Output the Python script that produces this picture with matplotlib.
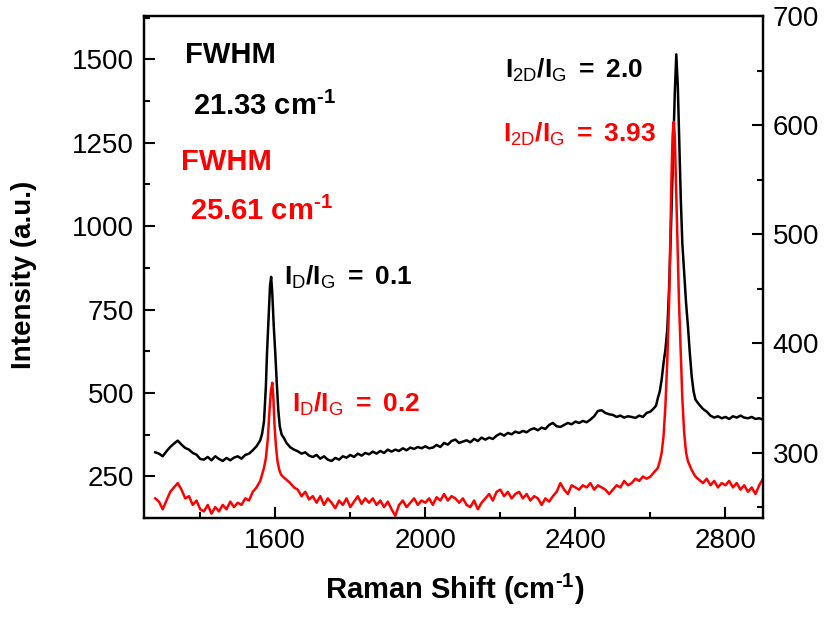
import numpy as np
import matplotlib
matplotlib.use('Agg')
import matplotlib.pyplot as plt
from matplotlib.ticker import MultipleLocator

plt.rcParams['font.family'] = ['Liberation Sans', 'DejaVu Sans']
plt.rcParams['mathtext.fontset'] = 'custom'
plt.rcParams['mathtext.rm'] = 'Liberation Sans'
plt.rcParams['mathtext.bf'] = 'Liberation Sans:bold'
plt.rcParams['mathtext.it'] = 'Liberation Sans:italic'

# black spectrum (left axis)
shift_black = [1280, 1290, 1300, 1310, 1320, 1330, 1340, 1350, 1360, 1370,
               1380, 1390, 1400, 1410, 1420, 1430, 1440, 1450, 1460, 1470,
               1480, 1490, 1500, 1510, 1520, 1530, 1540, 1550, 1560, 1565,
               1570, 1575, 1578, 1582, 1586, 1589, 1592, 1596, 1600, 1604,
               1608, 1612, 1617, 1623, 1630, 1640, 1650, 1660, 1670, 1680,
               1690, 1700, 1710, 1720, 1730, 1740, 1750, 1760, 1770, 1780,
               1790, 1800, 1810, 1820, 1830, 1840, 1850, 1860, 1870, 1880,
               1890, 1900, 1910, 1920, 1930, 1940, 1950, 1960, 1970, 1980,
               1990, 2000, 2010, 2020, 2030, 2040, 2050, 2060, 2070, 2080,
               2090, 2100, 2110, 2120, 2130, 2140, 2150, 2160, 2170, 2180,
               2190, 2200, 2210, 2220, 2230, 2240, 2250, 2260, 2270, 2280,
               2290, 2300, 2310, 2320, 2330, 2340, 2350, 2360, 2370, 2380,
               2390, 2400, 2410, 2420, 2430, 2440, 2450, 2460, 2470, 2480,
               2490, 2500, 2510, 2520, 2530, 2540, 2550, 2560, 2570, 2580,
               2590, 2600, 2610, 2615, 2620, 2625, 2630, 2635, 2640, 2645,
               2650, 2655, 2660, 2665, 2669, 2673, 2677, 2681, 2685, 2690,
               2695, 2700, 2705, 2710, 2715, 2720, 2730, 2740, 2750, 2760,
               2770, 2780, 2790, 2800, 2810, 2820, 2830, 2840, 2850, 2860,
               2870, 2880, 2890, 2900]
int_black = [322, 318, 310, 325, 338, 348, 357, 345, 335, 330,
             320, 315, 302, 300, 308, 298, 310, 302, 296, 305,
             298, 306, 310, 303, 314, 318, 328, 340, 358, 378,
             415, 520, 620, 720, 820, 848, 800, 700, 620, 530,
             450, 400, 375, 365, 350, 337, 330, 325, 318, 322,
             312, 308, 314, 303, 310, 300, 296, 305, 300, 310,
             306, 314, 308, 318, 312, 320, 316, 324, 318, 326,
             320, 330, 324, 330, 326, 334, 328, 336, 332, 338,
             334, 340, 334, 336, 344, 338, 350, 345, 356, 360,
             350, 354, 358, 352, 362, 356, 366, 360, 366, 362,
             372, 378, 372, 380, 376, 384, 380, 386, 382, 390,
             394, 388, 396, 392, 404, 410, 400, 398, 404, 410,
             406, 414, 410, 416, 412, 420, 430, 446, 448, 440,
             436, 434, 428, 432, 426, 430, 428, 425, 432, 428,
             440, 444, 455, 462, 485, 505, 540, 590, 630, 690,
             820, 1000, 1200, 1400, 1515, 1420, 1250, 1080, 950, 860,
             770, 700, 620, 550, 505, 480, 465, 452, 444, 432,
             426, 430, 424, 428, 422, 430, 426, 432, 426, 424,
             428, 422, 424, 420]

# red spectrum (right axis)
shift_red = [1280, 1290, 1300, 1310, 1320, 1330, 1340, 1350, 1360, 1370,
             1380, 1390, 1400, 1410, 1420, 1430, 1440, 1450, 1460, 1470,
             1480, 1490, 1500, 1510, 1520, 1530, 1540, 1550, 1560, 1565,
             1570, 1575, 1580, 1584, 1588, 1592, 1595, 1598, 1602, 1606,
             1610, 1615, 1620, 1630, 1640, 1650, 1660, 1670, 1680, 1690,
             1700, 1710, 1720, 1730, 1740, 1750, 1760, 1770, 1780, 1790,
             1800, 1810, 1820, 1830, 1840, 1850, 1860, 1870, 1880, 1890,
             1900, 1910, 1920, 1930, 1940, 1950, 1960, 1970, 1980, 1990,
             2000, 2010, 2020, 2030, 2040, 2050, 2060, 2070, 2080, 2090,
             2100, 2110, 2120, 2130, 2140, 2150, 2160, 2170, 2180, 2190,
             2200, 2210, 2220, 2230, 2240, 2250, 2260, 2270, 2280, 2290,
             2300, 2310, 2320, 2330, 2340, 2350, 2360, 2370, 2380, 2390,
             2400, 2410, 2420, 2430, 2440, 2450, 2460, 2470, 2480, 2490,
             2500, 2510, 2520, 2530, 2540, 2550, 2560, 2570, 2580, 2590,
             2600, 2610, 2620, 2625, 2630, 2635, 2640, 2645, 2650, 2653,
             2656, 2659, 2662, 2665, 2668, 2672, 2676, 2680, 2685, 2690,
             2695, 2700, 2705, 2710, 2715, 2720, 2730, 2740, 2750, 2760,
             2770, 2780, 2790, 2800, 2810, 2820, 2830, 2840, 2850, 2860,
             2870, 2880, 2890, 2900]
int_red = [258, 255, 248, 256, 264, 268, 272, 266, 258, 260,
           252, 256, 248, 246, 252, 244, 250, 246, 252, 248,
           255, 250, 254, 252, 258, 256, 264, 268, 274, 280,
           286, 295, 312, 335, 355, 364, 350, 325, 305, 292,
           285, 280, 278, 275, 272, 268, 266, 260, 264, 257,
           260, 254, 260, 252, 258, 254, 249, 256, 252, 258,
           250, 255, 260, 253, 258, 254, 258, 252, 256, 250,
           255, 248, 242, 252, 256, 250, 254, 258, 252, 256,
           254, 258, 252, 259, 256, 262, 256, 260, 258, 254,
           258, 252, 250, 256, 248, 254, 258, 262, 256, 264,
           266, 260, 264, 258, 262, 264, 258, 262, 256, 260,
           258, 252, 258, 255, 260, 264, 272, 266, 262, 270,
           268, 266, 270, 268, 272, 266, 270, 268, 266, 262,
           266, 270, 268, 274, 270, 272, 276, 274, 278, 276,
           278, 282, 286, 292, 300, 315, 343, 385, 440, 495,
           550, 590, 603, 590, 550, 500, 440, 400, 350, 318,
           300, 292, 288, 284, 281, 278, 275, 272, 276, 270,
           274, 268, 272, 270, 274, 268, 272, 266, 270, 264,
           268, 262, 270, 276]

fig = plt.figure(figsize=(8.25, 6.18), dpi=100)
ax = fig.add_axes([0.1745, 0.1618, 0.7503, 0.8123])
ax2 = ax.twinx()

ax.plot(shift_black, int_black, color='black', lw=1.8)
ax2.plot(shift_red, int_red, color='red', lw=1.8)

ax.set_xlim(1250, 2900)
ax.set_ylim(125, 1630)
ax2.set_ylim(240, 700)

ax.xaxis.set_major_locator(MultipleLocator(400))
ax.xaxis.set_minor_locator(MultipleLocator(200))
ax.yaxis.set_major_locator(MultipleLocator(250))
ax.yaxis.set_minor_locator(MultipleLocator(125))
ax2.yaxis.set_major_locator(MultipleLocator(100))
ax2.yaxis.set_minor_locator(MultipleLocator(50))

for a in (ax, ax2):
    for s in a.spines.values():
        s.set_linewidth(1.6)
ax.tick_params(which='major', direction='in', length=8, width=1.5, labelsize=20, pad=7)
ax.tick_params(which='minor', direction='in', length=4.5, width=1.5)
ax.tick_params(axis='x', top=False)
ax2.tick_params(which='major', direction='in', length=8, width=1.5, labelsize=20, pad=7)
ax2.tick_params(which='minor', direction='in', length=4.5, width=1.5)

hy = '\u2010'
ax.set_xlabel(r'Raman Shift (cm$^{\mathbf{' + hy + r'1}}$)', fontsize=21, fontweight='bold')
ax.xaxis.set_label_coords(0.5016, -0.108)
ax.set_ylabel('Intensity (a.u.)', fontsize=20, fontweight='bold')
ax.yaxis.set_label_coords(-0.172, 0.485)

ax.text(1359, 1490, 'FWHM', fontsize=21, fontweight='bold', color='black')
ax.text(1381, 1334, r'$\mathbf{21.33\ cm}^{\mathbf{' + hy + r'1}}$', fontsize=21, color='black')
ax.text(1349, 1169, 'FWHM', fontsize=21, fontweight='bold', color='red')
ax.text(1373, 1019, r'$\mathbf{25.61\ cm}^{\mathbf{' + hy + r'1}}$', fontsize=21, color='red')

fs = 19
ax.text(1623, 824, r'$\mathbf{I}_{\mathrm{D}}\mathbf{/I}_{\mathrm{G}}\mathbf{\ =\ 0.1}$',
        fontsize=fs, color='black')
ax.text(1645, 444, r'$\mathbf{I}_{\mathrm{D}}\mathbf{/I}_{\mathrm{G}}\mathbf{\ =\ 0.2}$',
        fontsize=fs, color='red')
ax.text(2213, 1444, r'$\mathbf{I}_{\mathrm{2D}}\mathbf{/I}_{\mathrm{G}}\mathbf{\ =\ 2.0}$',
        fontsize=fs, color='black')
ax.text(2207, 1254, r'$\mathbf{I}_{\mathrm{2D}}\mathbf{/I}_{\mathrm{G}}\mathbf{\ =\ 3.93}$',
        fontsize=fs, color='red')

fig.savefig('out.png', dpi=100)
